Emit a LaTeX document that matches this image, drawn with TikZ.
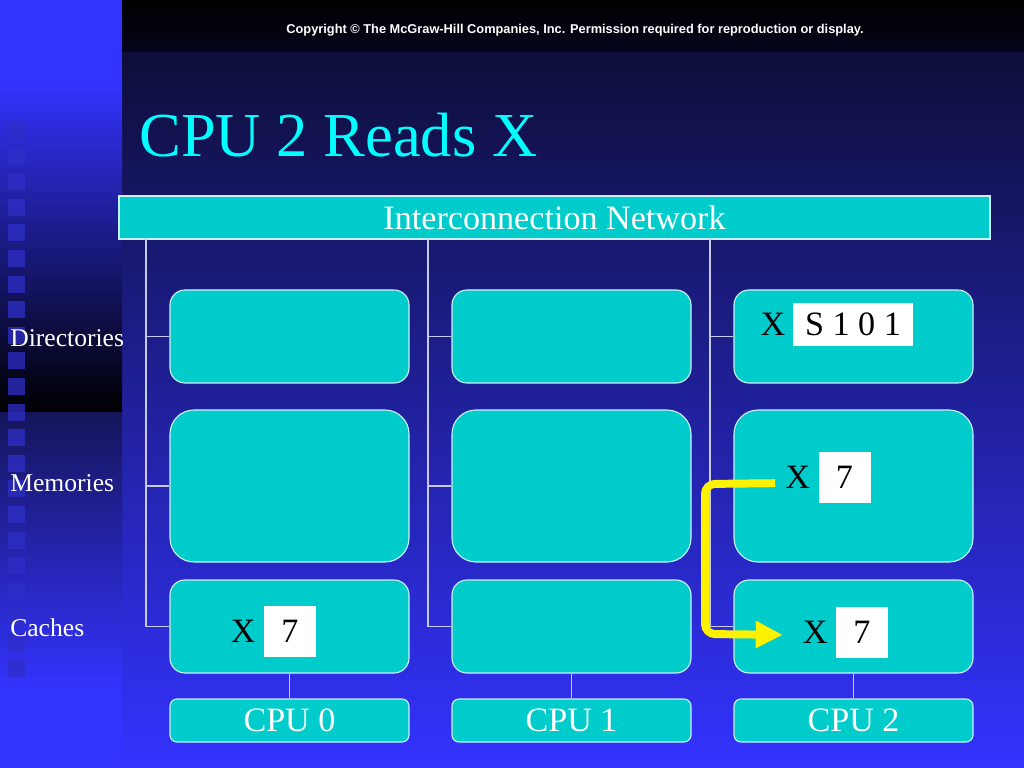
\documentclass[tikz,border=0pt]{standalone}
\usepackage{fontspec}
\setmainfont{Liberation Serif}
\newfontfamily\copyfont{Liberation Sans}
\usetikzlibrary{positioning,arrows.meta}
\definecolor{boxcyan}{HTML}{00CCCC}
\definecolor{rimcol}{HTML}{C8F0F8}
\definecolor{wirecol}{HTML}{C8C8E8}
\definecolor{slideblue}{HTML}{3333FF}
\definecolor{navy}{HTML}{0E0E3A}
\definecolor{stripnavy}{HTML}{15155A}
\definecolor{squarecol}{HTML}{2E2EC8}
\definecolor{titlecyan}{HTML}{00FFFF}
\def\pxu{0.703125pt}
\tikzset{>=Stealth}
\tikzset{
  unit/.style={draw=rimcol, line width=0.8pt, fill=boxcyan, inner sep=0pt, minimum width=239*\pxu},
  dirbox/.style={unit, minimum height=93*\pxu, rounded corners=15*\pxu},
  membox/.style={unit, minimum height=152*\pxu, rounded corners=24*\pxu},
  cachebox/.style={dirbox},
  cpubox/.style={unit, minimum height=43*\pxu, rounded corners=7*\pxu, text=white, font=\fontsize{24}{28}\selectfont},
  wire/.style={draw=wirecol, line width=0.8pt},
  tag/.style={font=\fontsize{24}{28}\selectfont, inner sep=0pt},
  cell/.style={fill=white, inner sep=0pt, minimum width=52*\pxu, minimum height=51*\pxu, font=\fontsize{24}{28}\selectfont},
  rowlabel/.style={anchor=west, text=white, inner sep=0pt, font=\fontsize{18}{22}\selectfont},
  flow/.style={draw=yellow, line width=5.6pt, rounded corners=10*\pxu, -{Triangle[length=19pt,width=18pt]}}
}
\begin{document}
\begin{tikzpicture}[x=\pxu, y=-\pxu]
    \useasboundingbox (0,0) rectangle (1024,768);
    % slide background
    \fill[slideblue] (0,0) rectangle (1024,768);
    \shade[top color=navy, bottom color=slideblue] (122,52) rectangle (1024,768);
    \shade[top color=black, bottom color={rgb,255:red,5;green,5;blue,28}] (122,0) rectangle (1024,52);
    \shade[top color=slideblue, bottom color=black] (0,80) rectangle (122,412);
    \shade[top color=stripnavy, bottom color=slideblue] (0,412) rectangle (122,690);
    \foreach \k in {0,...,21}
        \fill[squarecol, opacity=.75] (8,{122+25.6*\k}) rectangle +(17,17);
    \node[text=white, font=\copyfont\bfseries\fontsize{9}{11}\selectfont] (copy) at (575,30) {Copyright © The McGraw-Hill Companies, Inc. Permission required for reproduction or display.};
    \node[anchor=base west, inner sep=0pt, text=titlecyan, font=\fontsize{44}{50}\selectfont] (title) at (139,157) {CPU 2 Reads X};
    % network
    \node[unit, minimum width=871*\pxu, minimum height=43*\pxu, text=white, font=\fontsize{24}{28}\selectfont] (net) at (554.5,217.5) {Interconnection Network};
    \foreach \c/\x in {0/289.5,1/571.5,2/853.5} {
        \coordinate (tap\c) at ({\x-143.5},239);
        \node[dirbox] (dir\c) at (\x,336.5) {};
        \node[membox] (mem\c) at (\x,486) {};
        \node[cachebox] (cache\c) at (\x,626.5) {};
        \node[cpubox] (cpu\c) at (\x,720.5) {CPU \c};
        \draw[wire] (tap\c) |- (cache\c.west);
        \draw[wire] (tap\c |- dir\c.west) -- (dir\c.west);
        \draw[wire] (tap\c |- mem\c.west) -- (mem\c.west);
        \draw[wire] (cache\c) -- (cpu\c);
    }
    \node[rowlabel] (lbldir) at (10,338) {Directories};
    \node[rowlabel] (lblmem) at (10,483) {Memories};
    \node[rowlabel] (lblcache) at (10,628) {Caches};
    % entries
    \node[cell, minimum width=120*\pxu, minimum height=43*\pxu] (dirent) at (853,324.5) {S 1 0 1};
    \node[tag, left=5pt of dirent] (dx) {X};
    \node[cell] (ment) at (844.5,477.5) {7};
    \node[tag, left=5.5pt of ment] (mx) {X};
    \node[cell] (cent2) at (862,632) {7};
    \node[tag, left=5.5pt of cent2] (cx2) {X};
    \node[cell] (cent0) at (290,631) {7};
    \node[tag, left=5.5pt of cent0] (cx0) {X};
    % read path
    \draw[flow] ([xshift=-7pt,yshift=-4pt]mx.west) -- (705,484) -- (705,634) -- ([xshift=-14pt,yshift=-2pt]cx2.west);
\end{tikzpicture}
\end{document}
